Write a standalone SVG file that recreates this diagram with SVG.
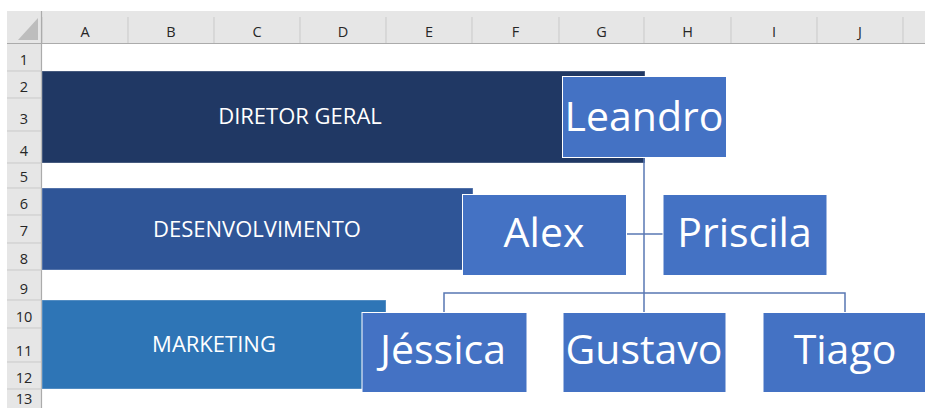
<svg xmlns="http://www.w3.org/2000/svg" width="925" height="408" viewBox="0 0 925 408">
  <style>
    .hdr { fill: #e6e6e6; }
    .sep { stroke: #c9c9c9; stroke-width: 1; }
    .hdrtxt { font-family: "Open Sans", "Noto Sans", sans-serif; font-size: 14.5px; fill: #262626; text-anchor: middle; }
    .bartxt { font-family: "Open Sans", "Noto Sans", sans-serif; font-size: 22px; fill: #ffffff; text-anchor: middle; }
    .node rect { fill: #4472c4; stroke: #ffffff; stroke-width: 1; }
    .node text { font-family: "Open Sans", "Noto Sans", sans-serif; font-size: 41px; fill: #ffffff; text-anchor: middle; }
    .conn { fill: none; stroke: #5877b3; stroke-width: 1.5; }
  </style>
  <rect x="0" y="0" width="925" height="408" fill="#ffffff"/>

  <!-- spreadsheet header -->
  <g id="sheet-grid">
    <rect class="hdr" x="7" y="11" width="918" height="33"/>
    <rect class="hdr" x="7" y="44" width="34" height="364"/>
    <polygon points="38,18 38,40 18,40" fill="#bdbdbd"/>
    <g class="sep">
      <line x1="42" y1="17" x2="42" y2="43"/>
      <line x1="128" y1="17" x2="128" y2="43"/>
      <line x1="214" y1="17" x2="214" y2="43"/>
      <line x1="300" y1="17" x2="300" y2="43"/>
      <line x1="386" y1="17" x2="386" y2="43"/>
      <line x1="472" y1="17" x2="472" y2="43"/>
      <line x1="559" y1="17" x2="559" y2="43"/>
      <line x1="644" y1="17" x2="644" y2="43"/>
      <line x1="731" y1="17" x2="731" y2="43"/>
      <line x1="817" y1="17" x2="817" y2="43"/>
      <line x1="903" y1="17" x2="903" y2="43"/>
      <line x1="7" y1="71" x2="41" y2="71"/>
      <line x1="7" y1="98" x2="41" y2="98"/>
      <line x1="7" y1="131" x2="41" y2="131"/>
      <line x1="7" y1="163" x2="41" y2="163"/>
      <line x1="7" y1="188" x2="41" y2="188"/>
      <line x1="7" y1="215" x2="41" y2="215"/>
      <line x1="7" y1="243" x2="41" y2="243"/>
      <line x1="7" y1="270" x2="41" y2="270"/>
      <line x1="7" y1="300" x2="41" y2="300"/>
      <line x1="7" y1="328" x2="41" y2="328"/>
      <line x1="7" y1="362" x2="41" y2="362"/>
      <line x1="7" y1="389" x2="41" y2="389"/>
    </g>
    <line x1="7" y1="43.5" x2="925" y2="43.5" stroke="#ababab" stroke-width="1.2"/>
    <line x1="41.5" y1="11" x2="41.5" y2="408" stroke="#ababab" stroke-width="1.2"/>
    <g class="hdrtxt">
      <text x="85" y="36.5">A</text>
      <text x="171" y="36.5">B</text>
      <text x="257" y="36.5">C</text>
      <text x="343" y="36.5">D</text>
      <text x="429" y="36.5">E</text>
      <text x="515.5" y="36.5">F</text>
      <text x="601.5" y="36.5">G</text>
      <text x="687.5" y="36.5">H</text>
      <text x="774" y="36.5">I</text>
      <text x="860" y="36.5">J</text>
      <text x="24" y="64.5">1</text>
      <text x="24" y="91.5">2</text>
      <text x="24" y="124">3</text>
      <text x="24" y="156">4</text>
      <text x="24" y="181.5">5</text>
      <text x="24" y="208.5">6</text>
      <text x="24" y="236">7</text>
      <text x="24" y="263.5">8</text>
      <text x="24" y="293.5">9</text>
      <text x="24" y="321.5">10</text>
      <text x="24" y="355.5">11</text>
      <text x="24" y="382.5">12</text>
      <text x="24" y="404">13</text>
    </g>
  </g>

  <!-- level bands -->
  <g id="band-diretor">
    <rect x="42" y="71" width="603" height="92" fill="#203864" stroke="#ffffff" stroke-opacity="0.35"/>
    <text class="bartxt" x="300" y="124">DIRETOR GERAL</text>
  </g>
  <g id="band-desenvolvimento">
    <rect x="42" y="188" width="431" height="82" fill="#2f5597" stroke="#ffffff" stroke-opacity="0.35"/>
    <text class="bartxt" x="257" y="237">DESENVOLVIMENTO</text>
  </g>
  <g id="band-marketing">
    <rect x="42" y="300" width="344" height="89" fill="#2e75b6" stroke="#ffffff" stroke-opacity="0.35"/>
    <text class="bartxt" x="214" y="352">MARKETING</text>
  </g>

  <!-- connectors -->
  <g id="connectors">
    <path class="conn" d="M644,158 V312"/>
    <path class="conn" d="M626,234 H663"/>
    <path class="conn" d="M444,312 V293 H845 V312"/>
  </g>

  <!-- nodes -->
  <g id="node-leandro" class="node">
    <rect x="562.5" y="76.5" width="164" height="81"/>
    <text x="644" y="131">Leandro</text>
  </g>
  <g id="node-alex" class="node">
    <rect x="462.5" y="194.5" width="164" height="81"/>
    <text x="544" y="247">Alex</text>
  </g>
  <g id="node-priscila" class="node">
    <rect x="663" y="194.5" width="164" height="81"/>
    <text x="744.5" y="247">Priscila</text>
  </g>
  <g id="node-jessica" class="node">
    <rect x="362" y="312.5" width="165" height="80"/>
    <text x="443" y="363.5">Jéssica</text>
  </g>
  <g id="node-gustavo" class="node">
    <rect x="563" y="312.5" width="163" height="80"/>
    <text x="644" y="363.5">Gustavo</text>
  </g>
  <g id="node-tiago" class="node">
    <rect x="763" y="312.5" width="165" height="80"/>
    <text x="845" y="363.5">Tiago</text>
  </g>
</svg>
